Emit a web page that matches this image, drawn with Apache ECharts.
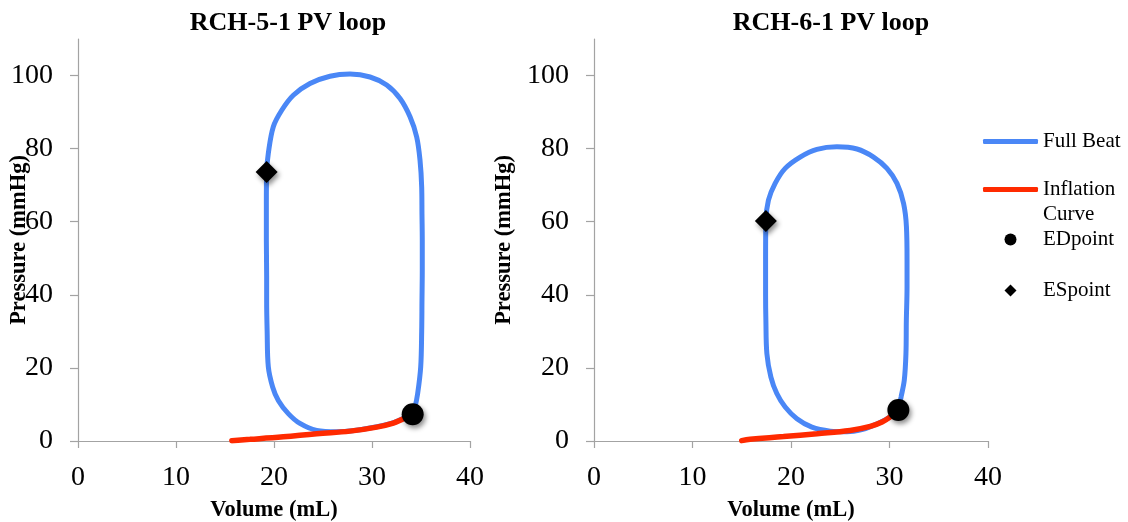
<!DOCTYPE html>
<html>
<head>
<meta charset="utf-8">
<script src="https://cdn.jsdelivr.net/npm/echarts/dist/echarts.min.js"></script>
<style>
  html, body { margin: 0; padding: 0; background: #fff; }
  #chart { width: 1128px; height: 522px; }
</style>
</head>
<body>
<div id="chart"></div>
<script>
// tick labels
const xTicks = [0, 10, 20, 30, 40];
const yTicks = [0, 20, 40, 60, 80, 100];

// RCH-5-1: full beat loop (starts and ends at ED point)
const rch5BeatVol = [34.15, 34.39, 34.66, 34.97, 35.07, 35.1, 35.13, 35.13, 35.1, 35.07, 34.9, 34.56, 33.88, 32.86, 31.5, 29.8, 27.76, 25.71, 23.67, 21.97, 20.79, 19.93, 19.42, 19.25, 19.22, 19.22, 19.25, 19.25, 19.3, 19.42, 19.86, 20.44, 21.46, 22.65, 24.35, 26.4, 28.0, 30.5, 32.2, 33.2, 34.15];
const rch5BeatPres = [7.3, 9.3, 13, 20.3, 30, 38.5, 47, 54.9, 62, 69.5, 76.8, 83.2, 88.7, 93.7, 97.4, 99.6, 100.4, 99.8, 97.8, 94.6, 90.5, 86.0, 78.7, 73.6, 65, 55, 45, 38.5, 30, 20.3, 14.8, 11.1, 7.5, 4.8, 2.9, 2.5, 2.8, 3.9, 5.0, 6.2, 7.3];
const rch5InflVol = [15.7, 17.55, 20.95, 24.35, 27.76, 30.48, 32.17, 33.2, 34.15];
const rch5InflPres = [0.1, 0.45, 1.15, 2.0, 2.7, 3.8, 4.9, 6.1, 7.3];
const rch5ED = [34.15, 7.3];
const rch5ES = [19.25, 73.6];

// RCH-6-1
const rch6BeatVol = [30.9, 31.17, 31.5, 31.67, 31.71, 31.78, 31.78, 31.72, 31.43, 30.76, 29.74, 28.38, 26.7, 24.66, 22.63, 20.93, 19.41, 18.39, 17.71, 17.45, 17.42, 17.42, 17.45, 17.55, 17.96, 18.56, 19.41, 20.6, 22.12, 23.98, 25.68, 27.2, 28.3, 29.3, 30.1, 30.9];
const rch6BeatPres = [8.5, 12, 16.6, 23.9, 33, 42, 49.5, 58.6, 65, 70.5, 74.6, 77.7, 79.9, 80.5, 79.8, 77.7, 74.6, 70.5, 65.9, 60.2, 50, 40, 33, 23.9, 17.5, 13, 9.3, 6.1, 3.8, 2.7, 2.5, 3.1, 4.2, 5.4, 6.7, 8.5];
const rch6InflVol = [15.0, 15.85, 19.24, 22.63, 26.0, 28.05, 29.24, 30.08, 30.9];
const rch6InflPres = [0.1, 0.5, 1.2, 2.0, 2.9, 4.0, 5.2, 6.6, 8.5];
const rch6ED = [30.9, 8.5];
const rch6ES = [17.45, 60.2];

const titles = ['RCH-5-1 PV loop', 'RCH-6-1 PV loop'];

const FONT = '"Liberation Serif", "Times New Roman", serif';
const BLUE = '#4a87f6';
const RED = '#ff2a00';
const AXIS_GRAY = '#a3a3a3';

function zip(xs, ys) {
    return xs.map((x, i) => [x, ys[i]]);
}

const charts = [
    {beat: zip(rch5BeatVol, rch5BeatPres), infl: zip(rch5InflVol, rch5InflPres), ed: rch5ED, es: rch5ES},
    {beat: zip(rch6BeatVol, rch6BeatPres), infl: zip(rch6InflVol, rch6InflPres), ed: rch6ED, es: rch6ES}
];

const grids = [
    {left: 78, width: 392, top: 39, bottom: 81, outerBoundsMode: 'none', containLabel: false},
    {left: 594, width: 394, top: 39, bottom: 81, outerBoundsMode: 'none', containLabel: false}
];
const yNameGaps = [47, 78];
const titleX = [288, 831];

const pointShadow = {
    opacity: 1,
    shadowBlur: 5,
    shadowOffsetX: 2,
    shadowOffsetY: 3,
    shadowColor: 'rgba(0, 0, 0, 0.45)'
};

let series = [];
charts.forEach((c, i) => {
    series.push({
        name: 'Full Beat',
        type: 'line',
        xAxisIndex: i,
        yAxisIndex: i,
        symbol: 'none',
        smooth: 0.35,
        lineStyle: {color: BLUE, width: 5, cap: 'round'},
        itemStyle: {color: BLUE},
        z: 2,
        data: c.beat
    }, {
        name: 'Inflation Curve',
        type: 'line',
        xAxisIndex: i,
        yAxisIndex: i,
        symbol: 'none',
        smooth: 0.4,
        lineStyle: {color: RED, width: 5.5, cap: 'round'},
        itemStyle: {color: RED},
        z: 3,
        data: c.infl
    }, {
        name: 'EDpoint',
        type: 'scatter',
        xAxisIndex: i,
        yAxisIndex: i,
        symbol: 'circle',
        symbolSize: 22,
        itemStyle: Object.assign({color: '#000'}, pointShadow),
        z: 4,
        data: [c.ed]
    }, {
        name: 'ESpoint',
        type: 'scatter',
        xAxisIndex: i,
        yAxisIndex: i,
        symbol: 'diamond',
        symbolSize: 22,
        itemStyle: Object.assign({color: '#000'}, pointShadow),
        z: 4,
        data: [c.es]
    });
});

// the legend aligns its leftmost drawn element with `left`,
// so the small centred point icons get an offset
function legendItem(name, icon, h, left, top) {
    return {
        data: [name],
        left: left,
        top: top,
        padding: 0,
        icon: icon,
        itemWidth: 55,
        itemHeight: h,
        selectedMode: false,
        itemStyle: {borderWidth: 0, shadowBlur: 0, shadowOffsetX: 0, shadowOffsetY: 0, opacity: 1},
        textStyle: {
            fontFamily: FONT,
            fontSize: 21,
            lineHeight: 25,
            color: '#000'
        }
    };
}

const circleIcon = 'path://M0,6 A6,6 0 1 1 12,6 A6,6 0 1 1 0,6 Z';
const diamondIcon = 'path://M0,6 L6,0 L12,6 L6,12 Z';

const option = {
    backgroundColor: '#fff',
    animation: false,
    title: titles.map((t, i) => ({
        text: t,
        left: titleX[i],
        top: 10,
        padding: 0,
        textAlign: 'center',
        textStyle: {fontFamily: FONT, fontWeight: 'bold', fontSize: 26, color: '#000'}
    })),
    legend: [
        legendItem('Full Beat', 'roundRect', 5, 983, 129),
        Object.assign(legendItem('Inflation Curve', 'roundRect', 5, 983, 152), {
            formatter: () => '\u00a0\nInflation\nCurve'
        }),
        legendItem('EDpoint', circleIcon, 12, 1004.5, 227),
        legendItem('ESpoint', diamondIcon, 12, 1004.5, 278)
    ],
    grid: grids,
    xAxis: grids.map((g, i) => ({
        type: 'value',
        gridIndex: i,
        min: 0,
        max: 40,
        interval: 10,
        name: 'Volume (mL)',
        nameLocation: 'middle',
        nameGap: 58,
        nameMoveOverlap: false,
        nameTextStyle: {fontFamily: FONT, fontWeight: 'bold', fontSize: 22.5, color: '#000'},
        axisLine: {show: true, onZero: false, lineStyle: {color: AXIS_GRAY, width: 1.2}},
        axisTick: {show: true, inside: false, length: 7, lineStyle: {color: AXIS_GRAY, width: 1.2}},
        axisLabel: {
            margin: 23,
            fontFamily: FONT,
            fontSize: 28,
            color: '#000',
            customValues: xTicks
        },
        splitLine: {show: false}
    })),
    yAxis: grids.map((g, i) => ({
        type: 'value',
        gridIndex: i,
        min: 0,
        max: 110,
        interval: 20,
        name: 'Pressure (mmHg)',
        nameLocation: 'middle',
        nameGap: yNameGaps[i],
        nameMoveOverlap: false,
        nameTextStyle: {fontFamily: FONT, fontWeight: 'bold', fontSize: 22.5, color: '#000'},
        axisLine: {show: true, onZero: false, lineStyle: {color: AXIS_GRAY, width: 1.2}},
        axisTick: {show: true, inside: false, length: 8, customValues: yTicks, lineStyle: {color: AXIS_GRAY, width: 1.2}},
        axisLabel: {
            margin: 25,
            fontFamily: FONT,
            fontSize: 28,
            color: '#000',
            customValues: yTicks
        },
        splitLine: {show: false}
    })),
    series: series
};

const chart = echarts.init(document.getElementById('chart'), null, {renderer: 'canvas'});
chart.setOption(option);
</script>
</body>
</html>
